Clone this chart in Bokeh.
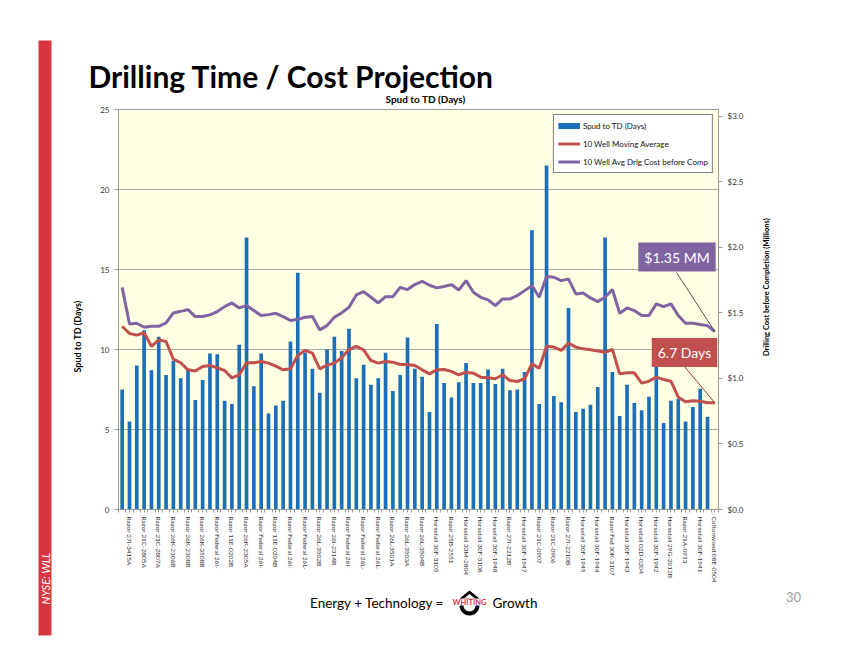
import math
from bokeh.plotting import figure
from bokeh.layouts import row, column
from bokeh.models import (Range1d, LinearAxis, FixedTicker, PrintfTickFormatter, Label,
                          Legend, LegendItem, Arrow)
from bokeh.core.properties import value
from bokeh.embed import file_html
from bokeh.resources import INLINE

# ---------------- data ----------------
well_labels = ["Razor 27I-3415A", "Razor 21C-2805A", "Razor 21C-2807A", "Razor 26K-2306B",
               "Razor 26K-2308B", "Razor 26K-3508B", "Razor Federal 26I-", "Razor 11E-0202B",
               "Razor 26K-2305A", "Razor Federal 26I-", "Razor 11E-0204B", "Razor Federal 26I-",
               "Razor Federal 26L-", "Razor 26L-3502B", "Razor 26I-2314B", "Razor Federal 26I-",
               "Razor Federal 26L-", "Razor Federal 26L-", "Razor 26L-3501A", "Razor 26L-3503A",
               "Razor 26L-3504B", "Horsetail 30F-3105", "Razor 25B-2551", "Horsetail 33M-2804",
               "Horsetail 30F-3108", "Horsetail 30F-1948", "Razor 27I-2212B", "Horsetail 30F-1947",
               "Razor 21C-0907", "Razor 21C-0906", "Razor 27I-2210B", "Horsetail 30F-1945",
               "Horsetail 30F-1944", "Razor Fed 30K-3107", "Horsetail 30F-1943", "Horsetail 02D-0204",
               "Horsetail 30F-1942", "Horsetail 29G-2012B", "Razor 21A-0913", "Horsetail 30F-1941",
               "Cottonwood 08E-0504"]

spud_days = [7.5, 5.5, 9.0, 11.2, 8.7, 10.8, 8.4, 9.3, 8.2, 8.7,
             6.85, 8.1, 9.75, 9.7, 6.8, 6.6, 10.3, 17.0, 7.7, 9.75,
             6.0, 6.5, 6.8, 10.5, 14.8, 9.8, 8.8, 7.3, 10.0, 10.8,
             9.9, 11.3, 8.2, 9.05, 7.8, 8.2, 9.8, 7.4, 8.4, 10.75,
             8.8, 8.3, 6.1, 11.6, 7.9, 7.0, 7.95, 9.15, 7.9, 7.9,
             8.75, 7.85, 8.8, 7.45, 7.5, 8.6, 17.45, 6.6, 21.5, 7.1,
             6.7, 12.6, 6.1, 6.3, 6.55, 7.65, 17.0, 8.6, 5.85, 7.8,
             6.65, 6.2, 7.05, 9.8, 5.4, 6.8, 6.9, 5.5, 6.4, 7.55,
             5.8, float("nan")]

moving_avg = [11.45, 11.0, 10.9, 11.05, 10.2, 10.6, 10.5, 9.4, 9.17, 8.73,
              8.65, 8.94, 9.0, 8.85, 8.69, 8.23, 8.42, 9.17, 9.17, 9.25,
              9.15, 8.96, 8.73, 8.79, 9.63, 9.94, 9.77, 8.79, 9.02, 9.15,
              9.48, 10.0, 10.19, 9.98, 9.31, 9.15, 9.25, 9.21, 9.06, 9.06,
              9.0, 8.73, 8.48, 8.73, 8.75, 8.63, 8.42, 8.58, 8.52, 8.27,
              8.23, 8.17, 8.42, 8.06, 8.0, 8.17, 9.1, 8.83, 10.2, 10.15,
              9.94, 10.4, 10.15, 10.04, 9.98, 9.9, 9.83, 10.0, 8.48, 8.54,
              8.54, 7.9, 8.02, 8.27, 8.12, 8.02, 7.02, 6.73, 6.79, 6.77,
              6.67, 6.67]

cost_mm = [1.694, 1.415, 1.42, 1.39, 1.397, 1.397, 1.423, 1.499, 1.511, 1.524,
           1.471, 1.471, 1.484, 1.509, 1.547, 1.575, 1.537, 1.555, 1.517, 1.479,
           1.486, 1.496, 1.471, 1.441, 1.45, 1.466, 1.471, 1.37, 1.402, 1.466,
           1.499, 1.542, 1.636, 1.661, 1.618, 1.575, 1.623, 1.623, 1.694, 1.677,
           1.715, 1.74, 1.71, 1.69, 1.70, 1.715, 1.674, 1.745, 1.656, 1.618,
           1.598, 1.555, 1.606, 1.606, 1.631, 1.669, 1.707, 1.618, 1.776, 1.771,
           1.745, 1.758, 1.644, 1.651, 1.613, 1.585, 1.618, 1.677, 1.496, 1.537,
           1.517, 1.479, 1.479, 1.568, 1.547, 1.568, 1.479, 1.42, 1.42, 1.41,
           1.402, 1.357]

days_ticks = [0, 5, 10, 15, 20, 25]
cost_ticks = [0.0, 0.5, 1.0, 1.5, 2.0, 2.5, 3.0]

# ---------------- layout constants (canvas pixels) ----------------
W, H = 854, 660
FL, FT, FR, FB = 118, 109, 718, 509      # plot frame
LEFT_W = 84                              # left decoration strip
TOP_H = 105                              # title strip
MAIN_R = 752                             # right edge of chart figure
MAIN_B = 589                             # bottom edge of chart figure
FONT = "Lato"
BLUE, RED, PURPLE = "#1B6EB8", "#C0504D", "#8064A2"
BAND = "#D8373F"


def sx(x):
    return x - FL


def sy(y):
    return FB - y


def deco(x0, y0, w, h):
    f = figure(width=w, height=h, output_backend="svg", toolbar_location=None,
               x_range=Range1d(x0, x0 + w), y_range=Range1d(y0 + h, y0),
               min_border=0, outline_line_color=None)
    f.axis.visible = False
    f.grid.visible = False
    f.background_fill_color = "white"
    f.border_fill_color = "white"
    return f


def txt(f, x, y, text, size, color="black", style="normal", align="left", angle=0.0):
    f.text(x=[x], y=[y], text=[text], text_font=value(FONT), text_font_size=value(size),
           text_color=color, text_font_style=style, text_align=align,
           text_baseline="middle", angle=angle)


n = len(cost_mm)
idx = list(range(n))

# ---------------- main chart ----------------
p = figure(width=MAIN_R - LEFT_W, height=MAIN_B - TOP_H, output_backend="svg",
           toolbar_location=None, x_range=Range1d(-0.5, n - 0.5), y_range=Range1d(0, 25),
           min_border_left=FL - LEFT_W, min_border_right=MAIN_R - FR,
           min_border_top=FT - TOP_H, min_border_bottom=MAIN_B - FB)
p.extra_y_ranges = {"cost": Range1d(0, 3.05)}
p.background_fill_color = "#FFFFE3"
p.border_fill_color = "white"
p.outline_line_color = "#9A9A9A"
p.xgrid.visible = False
p.ygrid.grid_line_color = "#A8A8A8"
p.ygrid.ticker = FixedTicker(ticks=days_ticks)

p.vbar(x=idx, top=spud_days, width=0.5, fill_color=BLUE, line_color=None)
red = p.line(idx, moving_avg, line_color=RED, line_width=3)
purple = p.line(idx, cost_mm, line_color=PURPLE, line_width=3, y_range_name="cost")

ya = p.yaxis[0]
ya.ticker = FixedTicker(ticks=days_ticks)
ra = LinearAxis(y_range_name="cost", ticker=FixedTicker(ticks=cost_ticks),
                formatter=PrintfTickFormatter(format="$%.1f"))
p.add_layout(ra, "right")
for ax in (ya, ra):
    ax.major_label_text_font = FONT
    ax.major_label_text_font_size = "8px"
    ax.major_label_text_color = "#333333"
    ax.axis_line_color = "#9A9A9A"
    ax.major_tick_line_color = "#9A9A9A"
    ax.major_tick_out = 4
    ax.major_tick_in = 0
    ax.minor_tick_line_color = None

xa = p.xaxis[0]
label_pos = [2 * i + 1 for i in range(len(well_labels))]
xa.ticker = FixedTicker(ticks=label_pos, minor_ticks=[i - 0.5 for i in range(n + 1)])
xa.major_label_overrides = {pos: lab for pos, lab in zip(label_pos, well_labels)}
xa.major_label_orientation = "vertical"
xa.major_label_text_font = FONT
xa.major_label_text_font_size = "6.5px"
xa.major_label_text_color = "#333333"
xa.axis_line_color = "#9A9A9A"
xa.major_tick_line_color = "#9A9A9A"
xa.major_tick_out = 3
xa.major_tick_in = 0
xa.minor_tick_line_color = "#9A9A9A"
xa.minor_tick_out = 3
xa.minor_tick_in = 0
xa.major_label_standoff = 4

# legend swatch for the bars (thick blue stroke, as in the original legend)
swatch = p.line(x=[-10.0, -9.0], y=[-10.0, -10.0], line_color=BLUE, line_width=6)
legend = Legend(items=[LegendItem(label="Spud to TD (Days)", renderers=[swatch]),
                       LegendItem(label="10 Well Moving Average", renderers=[red]),
                       LegendItem(label="10 Well Avg Drlg Cost before Comp", renderers=[purple])],
                location="top_right", orientation="vertical")
legend.label_text_font = FONT
legend.label_text_font_size = "8px"
legend.label_text_color = "#111111"
legend.glyph_width = 22
legend.glyph_height = 13
legend.label_height = 13
legend.spacing = 5
legend.padding = 4
legend.label_standoff = 3
legend.border_line_color = "black"
legend.border_line_width = 1
legend.background_fill_color = "white"
legend.background_fill_alpha = 1.0
legend.margin = 5
p.add_layout(legend, "center")

# callouts
p.add_layout(Arrow(end=None, x_start=sx(676), y_start=sy(272), start_units="screen",
                   x_end=n - 1, y_end=cost_mm[-1], end_units="data", y_range_name="cost",
                   line_color="#555555", line_width=1))
p.add_layout(Arrow(end=None, x_start=sx(684), y_start=sy(366), start_units="screen",
                   x_end=n - 1, y_end=moving_avg[-1], end_units="data",
                   line_color="#8B3A38", line_width=1))
p.add_layout(Label(x=sx(676.5), y=sy(256.5), x_units="screen", y_units="screen",
                   text="$1.35 MM", text_font=FONT, text_font_size="14px", text_color="white",
                   text_align="center", text_baseline="middle",
                   background_fill_color=PURPLE, padding=6))
p.add_layout(Label(x=sx(684), y=sy(352), x_units="screen", y_units="screen",
                   text="6.7 Days", text_font=FONT, text_font_size="14px", text_color="white",
                   text_align="center", text_baseline="middle",
                   background_fill_color=RED, padding=6))

# ---------------- decorations ----------------
left = deco(0, 0, LEFT_W, H)
left.quad(left=[38], right=[51], top=[40], bottom=[635], fill_color=BAND, line_color=None)
txt(left, 44.5, 578, "NYSE: WLL", "11px", color="white", style="italic", align="center",
    angle=math.pi / 2)
txt(left, 77, 336, "Spud to TD (Days)", "9px", style="bold", align="center", angle=math.pi / 2)

top = deco(LEFT_W, 0, W - LEFT_W, TOP_H)
txt(top, 88, 75, "Drilling Time / Cost Projection", "30px", style="bold")
txt(top, 425, 98, "Spud to TD (Days)", "10px", style="bold", align="center")

right = deco(MAIN_R, TOP_H, W - MAIN_R, MAIN_B - TOP_H)
txt(right, 766, 320, "Drilling Cost before Completion (Millions)", "7.5px", style="bold",
    align="center", angle=math.pi / 2)

foot = deco(LEFT_W, MAIN_B, W - LEFT_W, H - MAIN_B)
txt(foot, 444, 602, "Energy + Technology =", "13.5px", align="right")
txt(foot, 492, 602, "Growth", "13.5px", align="left")
# logo: drop with the word WHITING across it
foot.patch(x=[469, 479, 459], y=[590, 598, 598], fill_color="black", line_color=None)
foot.patch(x=[469, 474.5, 463.5], y=[593.5, 598, 598], fill_color="white", line_color=None)
outer = [(469 + 10.0 * math.cos(math.pi * k / 12), 605 + 10.0 * math.sin(math.pi * k / 12))
         for k in range(0, 13)]
inner = [(469 + 6.0 * math.cos(math.pi * k / 12), 605 + 6.0 * math.sin(math.pi * k / 12))
         for k in range(12, -1, -1)]
ring = outer + inner
foot.patch(x=[q[0] for q in ring], y=[q[1] for q in ring], fill_color="black", line_color=None)
txt(foot, 469, 601.5, "WHITING", "7.5px", color=BAND, style="bold", align="center")
txt(foot, 793, 596, "30", "13px", color="#A0A0A0", align="center")

layout = row(left, column(top, row(p, right), foot))

open("out.html", "w").write(file_html(layout, INLINE))
